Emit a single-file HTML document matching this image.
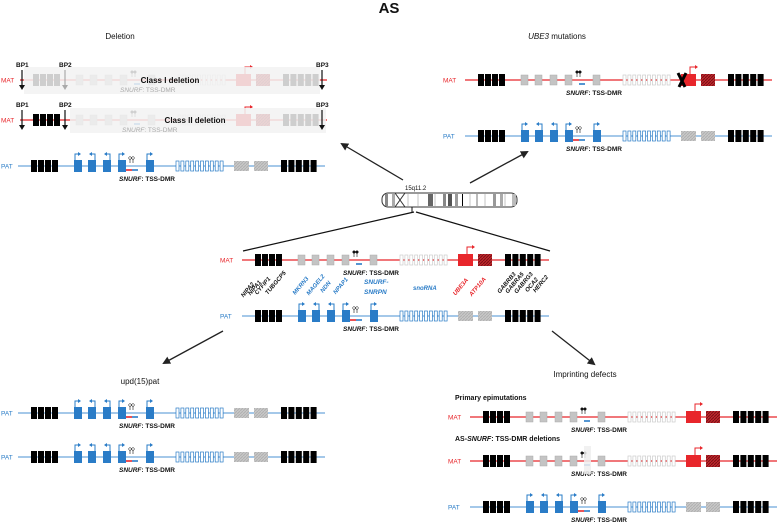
<!DOCTYPE html>
<html><head><meta charset="utf-8"><style>
html,body{margin:0;padding:0;background:#fff;width:778px;height:522px;overflow:hidden}
svg text{font-family:"Liberation Sans",sans-serif}
</style></head><body>
<svg id="s" width="778" height="522" viewBox="0 0 778 522" xmlns="http://www.w3.org/2000/svg">
<defs>
<pattern id="hat" width="3" height="3" patternUnits="userSpaceOnUse"><rect width="3" height="3" fill="#c0272d"/><path d="M0 3L3 0" stroke="#7a1015" stroke-width="1"/></pattern>
<pattern id="hatg" width="3" height="3" patternUnits="userSpaceOnUse"><rect width="3" height="3" fill="#c8c8c8"/><path d="M0 3L3 0" stroke="#b0b0b0" stroke-width="1"/></pattern>
<marker id="ah" markerWidth="8" markerHeight="8" refX="6" refY="4" orient="auto" markerUnits="userSpaceOnUse"><path d="M0 0L8 4L0 8z" fill="#222"/></marker>
</defs>
<g id="g"></g>
</svg>
<script>
var G=document.getElementById('g'),h='';
var RED='#e8262b',BLUE='#2a7cc7',LB='#6ea8dc';
function t(x,y,s,o){o=o||{};h+='<text x="'+x+'" y="'+y+'" font-size="'+(o.fs||7)+'" font-weight="'+(o.fw||'bold')+'" fill="'+(o.c||'#111')+'"'+(o.a?' text-anchor="'+o.a+'"':'')+(o.it?' font-style="italic"':'')+(o.r?' transform="rotate('+o.r+' '+x+' '+y+')"':'')+'>'+s+'</text>';}
function r(x,y,w,hh,f,st,sw){h+='<rect x="'+x+'" y="'+y+'" width="'+w+'" height="'+hh+'" fill="'+f+'"'+(st?' stroke="'+st+'" stroke-width="'+(sw||0.8)+'"':'')+'/>';}
function l(x1,y1,x2,y2,c,w,m){h+='<line x1="'+x1+'" y1="'+y1+'" x2="'+x2+'" y2="'+y2+'" stroke="'+c+'" stroke-width="'+(w||1)+'"'+(m?' marker-end="url(#ah)"':'')+'/>';}
function track(x,y,mat,noDmr){
 var c=mat?RED:LB;
 t(Math.max(1,x-22),y+2.5,mat?'MAT':'PAT',{c:mat?RED:BLUE,fs:6.5,fw:'normal'});
 l(x,y,x+307,y,c,1.3);
 for(var i=0;i<4;i++)r(x+13+i*7,y-6,6,12,'#000');
 for(var i=0;i<5;i++)r(x+263+i*7.4,y-6,6,12,'#000');
 var bx=[56,70,85,100,128],dir=[1,-1,-1,1,1];
 for(var i=0;i<5;i++){
  if(mat)r(x+bx[i],y-5,7,10,'#c4c4c4','#aaa',0.5);
  else{r(x+bx[i],y-6,8,12,BLUE);
   var ax=x+bx[i]+(dir[i]>0?1:7);h+='<path d="M'+ax+' '+(y-6)+'V'+(y-12)+'h'+(dir[i]*4)+'" stroke="'+BLUE+'" fill="none" stroke-width="1"/><path d="M'+(ax+dir[i]*6)+' '+(y-12)+'l'+(-dir[i]*3)+' -2v4z" fill="'+BLUE+'"/>';}
 }
 for(var k=0;k<2;k++){var lx=x+112+k*3;l(lx,y-3,lx,y-7,'#111',0.6);h+='<circle cx="'+lx+'" cy="'+(y-8)+'" r="1.3" fill="'+(mat?'#111':'#fff')+'" stroke="#111" stroke-width="0.5"/>';}
 if(!mat)l(x+108,y+4,x+114,y+4,RED,1.6);
 l(x+114,y+4,x+120,y+4,BLUE,1.6);
 for(var i=0;i<10;i++)r(x+158+i*4.9,y-5,3,10,'#fff',mat?'#ccc':BLUE,0.7);
 if(mat){r(x+216,y-6,15,12,RED);h+='<path d="M'+(x+225)+' '+(y-6)+'V'+(y-13)+'h5" stroke="'+RED+'" fill="none" stroke-width="1"/><path d="M'+(x+233)+' '+(y-13)+'l-3 -2v4z" fill="'+RED+'"/>';r(x+236,y-6,14,12,'url(#hat)');}
 else{r(x+216,y-5,15,10,'url(#hatg)');r(x+236,y-5,14,10,'url(#hatg)');}
 if(!noDmr)t(x+101,y+15,'<tspan font-style="italic">SNURF</tspan>: TSS-DMR',{fs:6.5});
}
t(389,13,'AS',{fs:15,a:'middle'});
t(120,39,'Deletion',{fs:8,fw:'normal',a:'middle'});
h+='<text x="557" y="39" font-size="8" text-anchor="middle" fill="#111"><tspan font-style="italic">UBE3</tspan> mutations</text>';
t(140,384,'upd(15)pat',{fs:8,fw:'normal',a:'middle'});
t(585,377,'Imprinting defects',{fs:8,fw:'normal',a:'middle'});
t(455,400,'Primary epimutations',{fs:7});
h+='<text x="455" y="441" font-size="7" font-weight="bold" fill="#111">AS-<tspan font-style="italic">SNURF</tspan>: TSS-DMR deletions</text>';
track(20,80,true,1);
h+='<rect x="24" y="67" width="296" height="27" fill="#f2f2f2" opacity="0.85"/>';
t(170,83,'Class I deletion',{fs:8,a:'middle'});t(120,92,'<tspan font-style="italic">SNURF</tspan>: TSS-DMR',{fs:6.5,fw:'normal',c:'#aaa'});
track(20,120,true,1);
h+='<rect x="70" y="108" width="256" height="25" fill="#f2f2f2" opacity="0.85"/>';
t(195,123,'Class II deletion',{fs:8,a:'middle'});t(122,132,'<tspan font-style="italic">SNURF</tspan>: TSS-DMR',{fs:6.5,fw:'normal',c:'#aaa'});
[[22,80,'#111'],[65,80,'#aaa'],[322,80,'#111'],[22,120,'#111'],[65,120,'#111'],[322,120,'#111']].forEach(function(b,i){
 var c=b[2];l(b[0],b[1]-10,b[0],b[1]+6,c,1.2);h+='<path d="M'+(b[0]-3)+' '+(b[1]+5)+'h6l-3 5z" fill="'+c+'"/>';
 t(b[0]-6,b[1]-13,['BP1','BP2','BP3'][i%3],{fs:6.5});});
track(18,166,false);
track(465,80,true);
h+='<path d="M678 73l7 14M686 73l-7 14" stroke="#000" stroke-width="3"/>';
track(465,136,false);
track(242,260,true);
track(242,316,false);
track(18,413,false);track(18,457,false);
track(470,417,true);track(470,461,true);
h+='<rect x="584" y="446" width="7" height="28" fill="#eee" opacity="0.85"/>';
track(470,507,false);
h+='<rect x="382" y="193" width="135" height="14" rx="6" fill="#fff" stroke="#333" stroke-width="1"/>';
h+='<path d="M395 193l5 7l-5 7M405 193l-5 7l5 7" stroke="#333" fill="#fff"/>';
[[385,3,'#888'],[392,3,'#aaa'],[428,5,'#666'],[443,3,'#888'],[448,4,'#555'],[455,3,'#999'],[462,1,'#000'],[476,2,'#bbb'],[493,3,'#999'],[500,3,'#aaa'],[512,4,'#bbb']].forEach(function(b){r(b[0],194,b[1],12,b[2]);});
[408,418,435,470,485,505].forEach(function(x){l(x,194,x,206,'#888',0.5)});
t(405,190,'15q11.2',{fs:6,fw:'normal'});
l(412,207,412,212,'#111',1);l(414,212,243,251,'#111',1.2);l(416,212,550,251,'#111',1.2);
l(403,180,342,144,'#222',1.3,1);l(470,183,527,152,'#222',1.3,1);
l(223,331,164,363,'#222',1.3,1);l(552,331,594,364,'#222',1.3,1);
[['NIPA2',249,291],['NIPA1',256,289],['CYFIP1',264,287],['TUBGCP5',277,284]].forEach(function(g){t(g[1],g[2],g[0],{fs:6,a:'middle',r:-50,it:1});});
[['MKRN3',302,287],['MAGEL2',317,286],['NDN',327,288],['NPAP1',342,287]].forEach(function(g){t(g[1],g[2],g[0],{fs:6,a:'middle',r:-50,c:BLUE,it:1});});
t(364,284,'SNURF-',{fs:6.5,c:BLUE,it:1});t(364,294,'SNRPN',{fs:6.5,c:BLUE,it:1});
t(413,290,'snoRNA',{fs:6,c:BLUE,it:1});
[['UBE3A',462,288],['ATP10A',479,288]].forEach(function(g){t(g[1],g[2],g[0],{fs:6,a:'middle',r:-50,c:RED,it:1});});
[['GABRB3',508,284],['GABRA5',516,284],['GABRG3',525,284],['OCA2',533,286],['HERC2',542,285]].forEach(function(g){t(g[1],g[2],g[0],{fs:6,a:'middle',r:-50,it:1});});
G.innerHTML=h;
</script>
</body></html>
